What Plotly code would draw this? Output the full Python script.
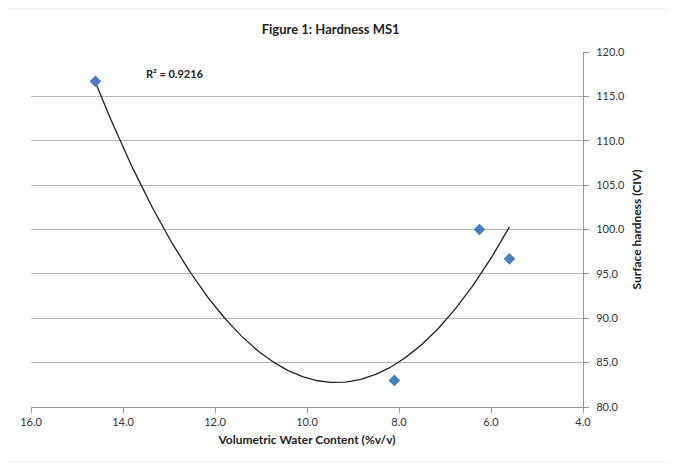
import numpy as np
import plotly.graph_objects as go

# Data
water_content = [14.6, 6.25, 5.6, 8.1]
hardness = [116.7, 100.0, 96.7, 83.0]
r2_label = "R² = 0.9216"
title_text = "Figure 1: Hardness MS1"
x_title = "Volumetric Water Content (%v/v)"
y_title = "Surface hardness (CIV)"

# 2nd-order polynomial trendline (as in Excel), computed from the data
coef = np.polyfit(water_content, hardness, 2)
xs = np.linspace(min(water_content), max(water_content), 200)
ys = np.polyval(coef, xs)

FONT = "Lato, 'Open Sans', sans-serif"
grid = "#b8b8b8"

fig = go.Figure()
fig.add_trace(go.Scatter(x=xs, y=ys, mode="lines",
                         line=dict(color="#222222", width=1.3),
                         hoverinfo="skip", showlegend=False))
fig.add_trace(go.Scatter(x=water_content, y=hardness, mode="markers",
                         marker=dict(symbol="diamond", size=9, color="#4a7ebb",
                                     line=dict(width=0)),
                         showlegend=False))

fig.update_layout(
    width=675, height=466,
    margin=dict(l=21, r=100, t=44, b=67),
    paper_bgcolor="white", plot_bgcolor="white",
    font=dict(family=FONT, size=11, color="#333333"),
    title=dict(text="<b>" + title_text + "</b>", x=0.478, xanchor="center",
               y=0.953, yanchor="middle",
               font=dict(family=FONT, size=13, color="#222222")),
    xaxis=dict(range=[16, 4], dtick=2, tick0=4, tickformat=".1f",
               showgrid=False, zeroline=False,
               showline=True, linecolor="#999999", linewidth=1,
               ticks="outside", ticklen=5, tickcolor="#999999",
               title=dict(text="<b>" + x_title + "</b>", standoff=8,
                          font=dict(family=FONT, size=12, color="#222222"))),
    yaxis=dict(range=[80, 120], dtick=5, tickformat=".1f", side="right",
               showgrid=True, gridcolor=grid, gridwidth=1.3, zeroline=False,
               showline=True, linecolor="#999999", linewidth=1,
               ticks="outside", ticklen=5, tickcolor="#999999",
               ticklabelstandoff=5,
               title=dict(text="<b>" + y_title + "</b>", standoff=8,
                          font=dict(family=FONT, size=12, color="#222222"))),
    annotations=[dict(text="<b>" + r2_label + "</b>", x=12.88, y=117.6,
                      xref="x", yref="y", showarrow=False,
                      font=dict(family=FONT, size=11, color="#222222"))],
    shapes=[dict(type="rect", xref="paper", yref="paper",
                 x0=-0.045, x1=1.153, y0=-0.155, y1=1.121,
                 line=dict(color="#eeeeee", width=1))],
)

fig.write_html("out.html")
